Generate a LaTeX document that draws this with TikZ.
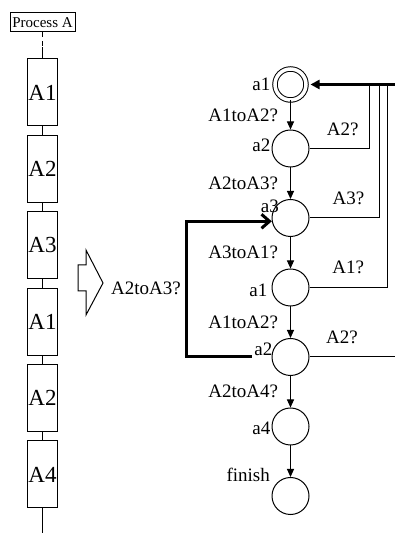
\documentclass[tikz,border=0pt]{standalone}
\usepackage{fontspec}
\setmainfont{Liberation Serif}
\usetikzlibrary{arrows.meta, positioning, calc}
\tikzset{
  seg/.style={rectangle, draw, line width=1pt, minimum width=29pt,
              minimum height=67pt, inner sep=1pt,
              font=\fontsize{23}{25}\selectfont},
  procbox/.style={rectangle, draw, line width=1pt, minimum width=65pt,
                  minimum height=19pt, inner sep=1pt,
                  font=\fontsize{15}{17}\selectfont},
  state/.style={circle, draw, line width=1pt, minimum size=37pt,
                inner sep=0pt},
  initstate/.style={state, minimum size=31pt, double, double distance=3.5pt},
  lab/.style={font=\fontsize{19}{21}\selectfont, inner sep=1pt},
  arr/.style={-{Triangle[length=8pt, width=7pt]}, line width=1pt},
  fb/.style={line width=1pt},
  retarr/.style={-{Triangle[length=9pt, width=9pt]}, line width=2.5pt,
                 shorten >=4pt},
  back/.style={-{Straight Barb[length=8pt, width=14pt]}, line width=3pt},
}
\begin{document}
\begin{tikzpicture}[x=1pt, y=1pt]
  \useasboundingbox (0,0) rectangle (395,534);

  % process A as a chain of segments
  \node[procbox]                  (proc) at (42.5,511.5) {Process A};
  \node[seg] (b1) at (42.5,441.5) {A1};
  \node[seg, below=8.4pt of b1]  (b2) {A2};
  \node[seg, below=8.4pt of b2]  (b3) {A3};
  \node[seg, below=8.4pt of b3]  (b4) {A1};
  \node[seg, below=8.4pt of b4]  (b5) {A2};
  \node[seg, below=8.4pt of b5]  (b6) {A4};
  \coordinate (dash) at ($(b1.north)+(0,11pt)$);
  \coordinate (tail) at ($(b6.south)+(0,-25pt)$);

  \draw[line width=1pt, dash pattern=on 5pt off 4pt] (proc.south) -- (dash);
  \draw[line width=1pt] (dash) -- (b1.north);
  \foreach \a/\b in {b1/b2, b2/b3, b3/b4, b4/b5, b5/b6, b6/tail}
    \draw[line width=1pt] (\a) -- (\b);

  % hollow arrow
  \draw[line width=1pt] (78,269) -- (86,269) -- (86,284) -- (103,251)
    -- (86,219) -- (86,243) -- (78,243) -- cycle;
  \node[lab, anchor=west] (swap) at (110,245.5) {A2toA3?};

  % state machine
  \node[initstate, label={[lab, xshift=-3pt]west:a1}]          (a1) at (290.5,449.5) {};
  \node[state, below=29pt of a1, label={[lab, yshift=3pt]west:a2}]  (a2) {};
  \node[state, below=31.5pt of a2,
        label={[lab, anchor=east, xshift=3pt, yshift=-2pt]north west:a3}] (a3) {};
  \node[state, below=31.5pt of a3, label={[lab, xshift=-3pt, yshift=-3pt]west:a1}] (a1b) {};
  \node[state, below=31.5pt of a1b, label={[lab, xshift=2pt, yshift=8pt]west:a2}] (a2b) {};
  \node[state, below=31.5pt of a2b, label={[lab, yshift=-2pt]west:a4}] (a4) {};
  \node[state, below=31.5pt of a4, label={[lab, xshift=-6pt]north west:finish}] (fin) {};

  \draw[arr] (a1)  -- node[lab, left=11pt]{A1toA2?} (a2);
  \draw[arr] (a2)  -- node[lab, left=11pt]{A2toA3?} (a3);
  \draw[arr] (a3)  -- node[lab, left=11pt]{A3toA1?} (a1b);
  \draw[arr] (a1b) -- node[lab, left=11pt]{A1toA2?} (a2b);
  \draw[arr] (a2b) -- node[lab, left=11pt]{A2toA4?} (a4);
  \draw[arr] (a4)  -- (fin);

  % returns to the start
  \coordinate (ret) at ([xshift=88.5pt]a1.east);
  \coordinate (j1)  at ([xshift=-26pt]ret);
  \coordinate (j2)  at ([xshift=-16pt]ret);
  \coordinate (j3)  at ([xshift=-8pt]ret);
  \coordinate (out) at (a2b.east -| ret);

  \draw[retarr] (ret) -- (a1);
  \draw[fb] (a2.east)  -| node[lab, pos=0.28, above=11pt]{A2?} (j1);
  \draw[fb] (a3.east)  -| node[lab, pos=0.28, above=12pt]{A3?} (j2);
  \draw[fb] (a1b.east) -| node[lab, pos=0.25, above=12pt]{A1?} (j3);
  \draw[fb] (a2b.east) -- node[lab, pos=0.38, above=12pt]{A2?} (out);

  \draw[back] ([xshift=-20pt]a2b.west) -- ++(-65pt,0) |- (a3.190);
\end{tikzpicture}
\end{document}
